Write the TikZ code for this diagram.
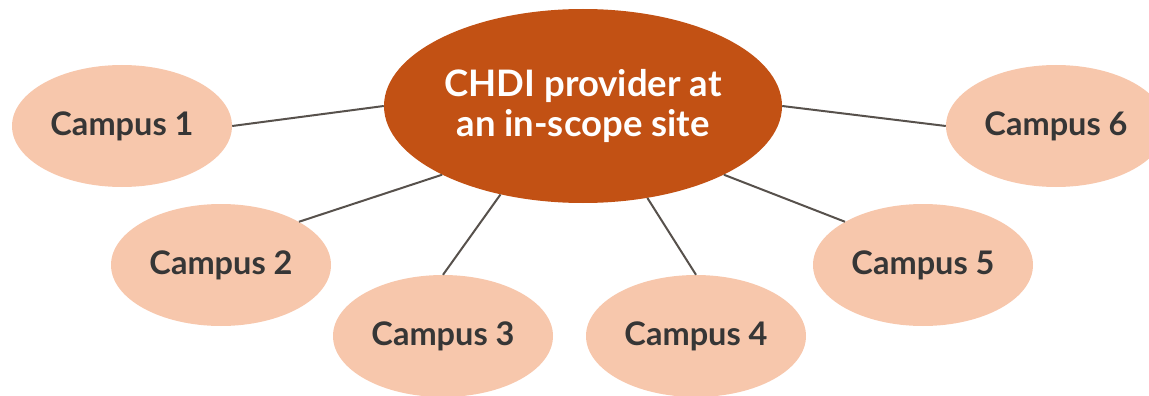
\documentclass[tikz,border=0pt]{standalone}
\usepackage{fontspec}
\setmainfont{Lato}
\usetikzlibrary{shapes.geometric,positioning}
\definecolor{hubfill}{HTML}{C25114}
\definecolor{campfill}{HTML}{F7C7AC}
\definecolor{campText}{HTML}{363636}
\definecolor{linkgray}{HTML}{57514C}

\begin{document}
\begin{tikzpicture}[x=1pt,y=-1pt,
	campus/.style={ellipse,fill=campfill,inner sep=0pt,minimum width=220pt,minimum height=122pt,text=campText,font=\fontsize{32.5}{36}\selectfont\bfseries},
	hub/.style={ellipse,fill=hubfill,inner sep=0pt,minimum width=398pt,minimum height=194pt,text=white,align=center,font=\fontsize{36.5}{40}\selectfont\bfseries},
	link/.style={draw=linkgray,line width=2pt}]
\clip (0,0) rectangle (1149,396);

\node[hub] (hub) at (583,106) {CHDI provider at\\an in-scope site};

\foreach \n/\x/\y in {1/122/126,2/221/265,3/443/336,4/696/336,5/923/265,6/1056/126}
	\node[campus] (c\n) at (\x,\y) {Campus \n};

\draw[link] (c1.east) -- (hub.west);
\draw[link] (c2.29) -- (hub.206);
\draw[link] (c3.north) -- (hub.227);
\draw[link] (c4.north) -- (hub.-55);
\draw[link] (c5.151) -- (hub.-26);
\draw[link] (c6.west) -- (hub.east);
\end{tikzpicture}
\end{document}
